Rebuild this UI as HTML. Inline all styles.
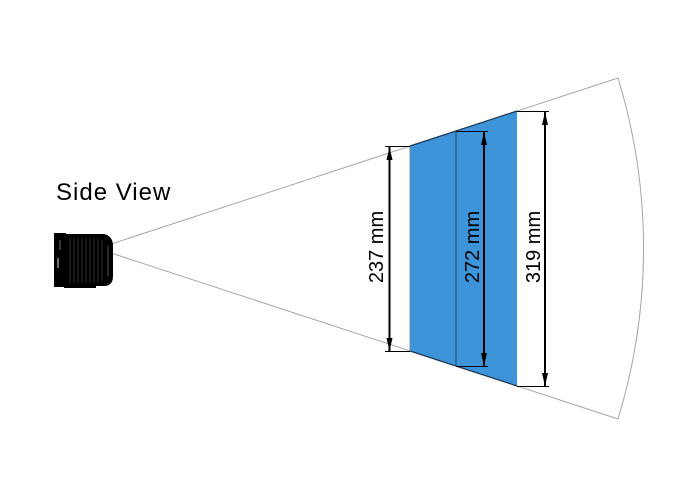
<!DOCTYPE html>
<html><head><meta charset="utf-8"><style>
html,body{margin:0;padding:0;background:#fff;}
svg{display:block;}
</style></head><body>
<svg width="700" height="500" viewBox="0 0 700 500" xmlns="http://www.w3.org/2000/svg">
<defs>
<marker id="ah" viewBox="0 0 10 10" refX="10" refY="5" markerWidth="6.5" markerHeight="3" markerUnits="strokeWidth" orient="auto-start-reverse" preserveAspectRatio="none">
<path d="M0,0 L10,5 L0,10 Z" fill="#000"/>
</marker>
</defs>
<!-- cone -->
<line x1="102" y1="247" x2="618" y2="78" stroke="#a6a6a6" stroke-width="1"/>
<line x1="108" y1="252" x2="618" y2="419" stroke="#a6a6a6" stroke-width="1"/>
<path d="M618,78 A582,582 0 0 1 618,419" fill="none" stroke="#a6a6a6" stroke-width="1"/>
<!-- blue area -->
<polygon points="410,146 517,111 517,386 410,351" fill="#3d94d8"/>
<line x1="410" y1="146" x2="517" y2="111" stroke="#1c3550" stroke-width="1.2"/>
<line x1="410" y1="351" x2="517" y2="386" stroke="#1c3550" stroke-width="1.2"/>
<line x1="410" y1="146" x2="410" y2="351" stroke="#7a8a99" stroke-width="1"/>
<line x1="456" y1="131.5" x2="456" y2="366.5" stroke="#2a4f73" stroke-width="1.2"/>
<!-- extension lines -->
<line x1="385" y1="146.5" x2="410" y2="146.5" stroke="#000" stroke-width="1"/>
<line x1="385" y1="351.5" x2="410" y2="351.5" stroke="#000" stroke-width="1"/>
<line x1="456" y1="131.5" x2="488" y2="131.5" stroke="#000" stroke-width="1"/>
<line x1="456" y1="366.5" x2="488" y2="366.5" stroke="#000" stroke-width="1"/>
<line x1="517" y1="111.5" x2="549" y2="111.5" stroke="#000" stroke-width="1"/>
<line x1="517" y1="386.5" x2="549" y2="386.5" stroke="#000" stroke-width="1"/>
<!-- dimension arrows -->
<line x1="389.5" y1="147" x2="389.5" y2="351" stroke="#000" stroke-width="2" marker-start="url(#ah)" marker-end="url(#ah)"/>
<line x1="484" y1="132" x2="484" y2="366" stroke="#000" stroke-width="2" marker-start="url(#ah)" marker-end="url(#ah)"/>
<line x1="545" y1="112" x2="545" y2="386" stroke="#000" stroke-width="2" marker-start="url(#ah)" marker-end="url(#ah)"/>
<!-- labels -->
<g font-family="Liberation Sans, sans-serif" font-size="20" fill="#000">
<text transform="translate(383,247) rotate(-90)" text-anchor="middle">237 mm</text>
<text transform="translate(479,247) rotate(-90)" text-anchor="middle">272 mm</text>
<text transform="translate(540,247) rotate(-90)" text-anchor="middle">319 mm</text>
</g>
<text x="56" y="200" font-family="Liberation Sans, sans-serif" font-size="24" letter-spacing="1" fill="#000">Side View</text>
<!-- camera -->
<g>
<rect x="54" y="233" width="12" height="54" fill="#000"/>
<path d="M64,234 L104,234 Q113,236 113,246 L113,276 Q113,286 104,286 L96,286 L96,288 L64,288 Z" fill="#000"/>
<g stroke="#3a3a3a" stroke-width="0.8">
<line x1="70" y1="238" x2="70" y2="283"/>
<line x1="74" y1="238" x2="74" y2="283"/>
<line x1="78" y1="238" x2="78" y2="283"/>
<line x1="82" y1="238" x2="82" y2="283"/>
<line x1="86" y1="238" x2="86" y2="283"/>
<line x1="90" y1="238" x2="90" y2="283"/>
<line x1="94" y1="238" x2="94" y2="283"/>
<line x1="98" y1="238" x2="98" y2="283"/>
<line x1="102" y1="240" x2="102" y2="281"/>
</g>
<line x1="58" y1="258" x2="58" y2="268" stroke="#ddd" stroke-width="1"/>
<line x1="60" y1="240" x2="60" y2="250" stroke="#888" stroke-width="0.8"/>
<line x1="108" y1="246" x2="108" y2="276" stroke="#666" stroke-width="0.8"/>
</g>
</svg>
</body></html>
